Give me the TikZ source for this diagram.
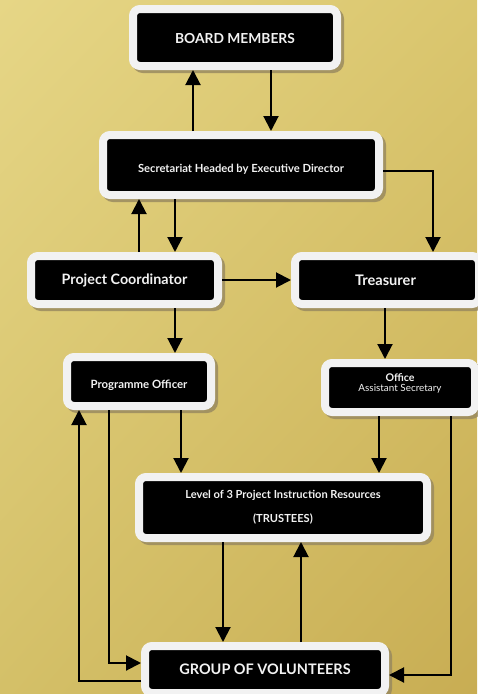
\documentclass[tikz,border=0pt]{standalone}
\usepackage{fontspec}
\setmainfont{Lato}
\usetikzlibrary{arrows.meta,shadings}
\definecolor{bgTL}{RGB}{230,214,134}
\definecolor{bgTR}{RGB}{218,198,110}
\definecolor{bgBL}{RGB}{212,192,104}
\definecolor{bgBR}{RGB}{200,173,83}
\definecolor{boxrim}{RGB}{242,242,242}
\definecolor{shadowcol}{RGB}{150,135,95}
\newcommand{\fsz}[1]{\fontsize{#1}{#1}\selectfont}
\newcommand{\shiftdown}[2]{\raisebox{-#1}[\height][\depth]{#2}}
\begin{document}
\begin{tikzpicture}[x=1pt,y=-1pt,
  orgbox/.style={fill=black, draw=boxrim, line width=8pt, rounded corners=7pt,
    text=boxrim, font=\bfseries, inner sep=0pt, outer sep=4pt, align=center,
    preaction={draw=shadowcol, fill=shadowcol, line width=8pt, opacity=0.8,
      transform canvas={shift={(3pt,-3pt)}}}},
  arr/.style={line width=2pt, -{Triangle[length=15pt,width=15pt]}},
  ln/.style={line width=2pt}]
\useasboundingbox (0,0) rectangle (477,694);
\shade[upper left=bgTL, upper right=bgTR, lower left=bgBL, lower right=bgBR] (0,0) rectangle (477,694);
\node[orgbox, minimum width=204pt, minimum height=57pt, font=\bfseries\fsz{13.8}] (board) at (235,37.5) {\shiftdown{1pt}{BOARD MEMBERS}};
\node[orgbox, minimum width=276pt, minimum height=60pt, font=\bfseries\fsz{11.2}] (sec) at (241,165) {\shiftdown{4pt}{Secretariat Headed by Executive Director}};
\node[orgbox, minimum width=187pt, minimum height=48pt, font=\bfseries\fsz{14.3}] (pc) at (124.5,280) {Project Coordinator};
\node[orgbox, minimum width=184pt, minimum height=48pt, font=\bfseries\fsz{14.6}] (tre) at (387,280) {\hspace*{-3pt}Treasurer};
\node[orgbox, minimum width=144pt, minimum height=49pt, font=\bfseries\fsz{11.4}] (po) at (139,381.5) {\shiftdown{3.5pt}{Programme Officer}};
\node[orgbox, minimum width=150pt, minimum height=49pt, font=\fsz{9.9}] (off) at (400,387.5) {\raisebox{4.5pt}[\height][\depth]{\shortstack{{\bfseries\fsz{10.6}Office}\\[-0.5pt] Assistant Secretary}}};
\node[orgbox, minimum width=288pt, minimum height=61pt, font=\bfseries\fontsize{11.1}{24}\selectfont] (lev) at (283,507.5) {Level of 3 Project Instruction Resources\\(TRUSTEES)};
\node[orgbox, minimum width=240pt, minimum height=47pt, font=\bfseries\fsz{14.5}] (gov) at (265,669.5) {GROUP OF VOLUNTEERS};
% connectors
\draw[arr] ([xshift=-48pt]sec.north) -- ([xshift=-42pt]board.south);
\draw[arr] ([xshift=36pt]board.south) -- ([xshift=30pt]sec.north);
\draw[arr] ([yshift=-6pt]sec.east) -| ([xshift=46pt]tre.north);
\draw[arr] ([xshift=14.5pt]pc.north) -- ([xshift=-102pt]sec.south);
\draw[arr] ([xshift=-66pt]sec.south) -- ([xshift=50.5pt]pc.north);
\draw[arr] (pc.east) -- (tre.west);
\draw[arr] ([xshift=50.5pt]pc.south) -- ([xshift=36pt]po.north);
\draw[arr] ([xshift=-2pt]tre.south) -- ([xshift=-15pt]off.north);
\draw[arr] ([xshift=42pt]po.south) -- ([xshift=-102pt]lev.north);
\draw[arr] ([xshift=-21pt]off.south) -- ([xshift=96pt]lev.north);
\draw[arr] ([xshift=51pt]off.south) |- ([yshift=-5.5pt]gov.east);
\draw[arr] ([xshift=-30pt]po.south) |- ([yshift=6.5pt]gov.west);
\draw[arr] ([yshift=-11.5pt]gov.west) -| ([xshift=-60pt]po.south);
\draw[arr] ([xshift=-60pt]lev.south) -- ([xshift=-42pt]gov.north);
\draw[arr] ([xshift=36pt]gov.north) -- ([xshift=18pt]lev.south);
\end{tikzpicture}
\end{document}
